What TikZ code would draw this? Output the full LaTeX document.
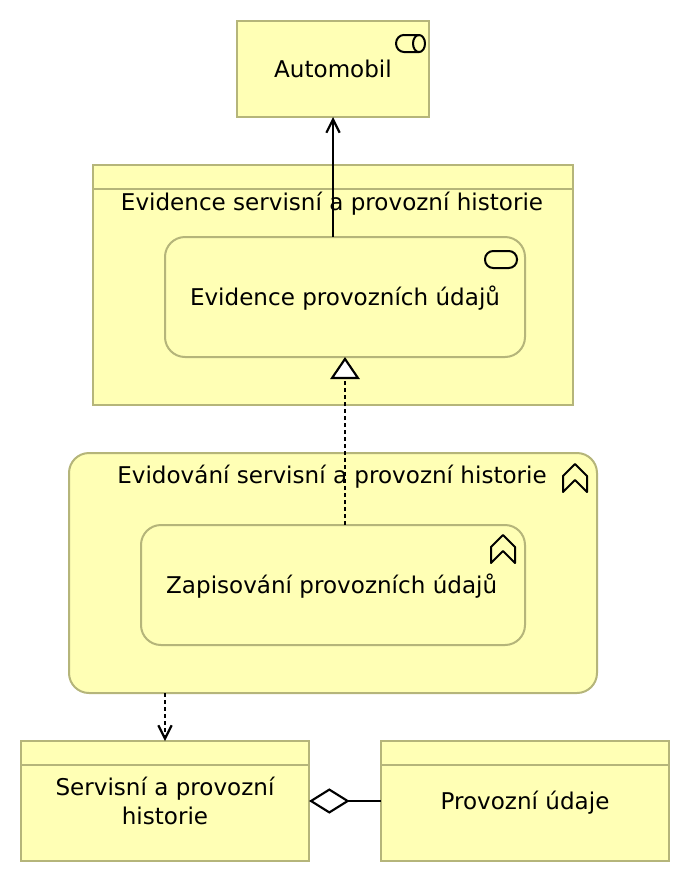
\documentclass[tikz,border=0pt]{standalone}
\usepackage{fontspec}
\setmainfont{DejaVu Sans}
\usepackage{xcolor}
\usetikzlibrary{arrows.meta}
\definecolor{boxfill}{HTML}{FFFFB5}
\definecolor{boxline}{HTML}{B5B57A}
\def\px{0.75pt}
\begin{document}
\begin{tikzpicture}[x=0.75pt, y=-0.75pt,
    elem/.style={draw=boxline, fill=boxfill, line width=1.5pt, outer sep=0pt, inner sep=0pt, align=center},
    round elem/.style={elem, rounded corners=20*\px},
    one line/.style={text height=15pt, text depth=2pt},
    lbl/.style={inner sep=0pt, align=center, one line},
    conn/.style={line width=1.6pt, black},
    dotline/.style={conn, dash pattern=on 4*\px off 3*\px},
    icon/.style={line width=1.5pt, black, line join=round},
    every node/.append style={font=\fontsize{17.3}{21.75}\selectfont}
    ]
    \useasboundingbox (0,0) rectangle (690,882);
    % elements
    \node[elem, one line, minimum width=192*\px, minimum height=96*\px] (automobil) at (333,69) {Automobil};
    \node[elem, minimum width=480*\px, minimum height=240*\px] (evidence) at (333,285) {};
    \node[round elem, one line, minimum width=360*\px, minimum height=120*\px] (udaje) at (345,297) {Evidence provozních údajů};
    \node[round elem, minimum width=528*\px, minimum height=240*\px] (evidovani) at (333,573) {};
    \node[round elem, one line, minimum width=384*\px, minimum height=120*\px] (zapis) at (333,585) {Zapisování provozních údajů\hspace{2pt}};
    \node[elem, minimum width=288*\px, minimum height=120*\px] (servisni) at (165,801) {Servisní a provozní\\historie};
    \node[elem, one line, minimum width=288*\px, minimum height=120*\px] (provoz) at (525,801) {Provozní údaje};
    \node[lbl] (evidencelbl) at (332,202) {Evidence servisní a provozní historie};
    \node[lbl] (evidovanilbl) at (332,475) {Evidování servisní a provozní historie};
    % header lines
    \foreach \n in {evidence, servisni, provoz}
      \draw[draw=boxline, line width=1.5pt] ([yshift=-18pt]\n.north west) -- ([yshift=-18pt]\n.north east);
    % icons
    \draw[icon] (404,35) -- (419,35) arc (90:-90:4.5pt and 6.4pt) -- (404,52) arc (270:90:6pt and 6.4pt) -- cycle;
    \draw[icon] (419,35) arc (90:270:4.5pt and 6.4pt);
    \draw[icon, rounded corners=6.2pt] (485,251) rectangle (517,268);
    \foreach \cx/\cy in {575/464, 503/535}
      \draw[icon] (\cx-12,\cy+28) -- (\cx-12,\cy+12) -- (\cx,\cy) -- (\cx+12,\cy+12) -- (\cx+12,\cy+28) -- (\cx,\cy+16) -- cycle;
    % connectors
    \draw[conn, -{Straight Barb[length=10pt, width=10pt]}] (automobil |- udaje.north) -- (automobil.south);
    \draw[dotline, -{Triangle[open, fill=white, length=16.5pt, width=22pt]}] (udaje |- zapis.north) -- (udaje.south);
    \draw[dotline, -{Straight Barb[length=10pt, width=10pt]}] (servisni |- evidovani.south) -- (servisni.north);
    \draw[conn, -{Diamond[open, fill=white, length=30.5pt, width=19pt]}] (provoz.west) -- (servisni.east);
  \end{tikzpicture}
\end{document}
